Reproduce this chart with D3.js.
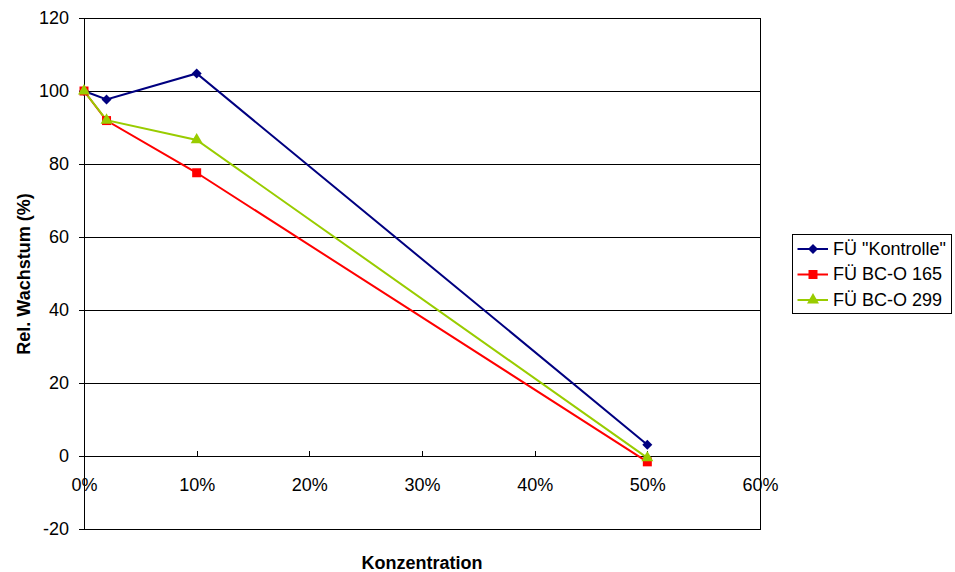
<!DOCTYPE html>
<html>
<head>
<meta charset="utf-8">
<script src="https://cdn.jsdelivr.net/npm/d3@7"></script>
<style>
  body { margin: 0; background: #fff; }
  svg { display: block; font-family: Arial, "Liberation Sans", sans-serif; }
</style>
</head>
<body>
<svg id="chart" width="955" height="572"></svg>
<script>
// Concentrations (fraction) and relative growth (%) per series
const concentrations = [0, 0.02, 0.10, 0.50];
const kontrolle = [100, 97.7, 104.8, 3.1];
const bco165 = [100, 91.9, 77.6, -1.6];
const bco299 = [100, 92.0, 86.6, -0.5];
const seriesNames = ['FÜ "Kontrolle"', 'FÜ BC-O 165', 'FÜ BC-O 299'];
const xTicks = [0, 0.1, 0.2, 0.3, 0.4, 0.5, 0.6];
const yTicks = [-20, 0, 20, 40, 60, 80, 100, 120];

// Square diamond marker (rotated square)
const diamond = {
  draw(ctx, size) {
    const r = Math.sqrt(size / 2);
    ctx.moveTo(0, -r); ctx.lineTo(r, 0); ctx.lineTo(0, r); ctx.lineTo(-r, 0); ctx.closePath();
  }
};

const series = [
  { name: seriesNames[0], values: kontrolle, color: "#000080", symbol: diamond, size: 50 },
  { name: seriesNames[1], values: bco165, color: "#FF0000", symbol: d3.symbolSquare, size: 81 },
  { name: seriesNames[2], values: bco299, color: "#99CC00", symbol: d3.symbolTriangle, size: 62 }
];

const svg = d3.select("#chart");
const plot = { left: 84, right: 760, top: 18, bottom: 529 };

const x = d3.scaleLinear().domain([0, 0.6]).range([plot.left, plot.right]);
const y = d3.scaleLinear().domain([-20, 120]).range([plot.bottom, plot.top]);

// Horizontal gridlines
svg.append("g")
  .selectAll("line")
  .data(yTicks.filter(v => v !== -20))
  .join("line")
  .attr("x1", plot.left).attr("x2", plot.right)
  .attr("y1", d => y(d)).attr("y2", d => y(d))
  .attr("stroke", "#000").attr("stroke-width", 1)
  .attr("shape-rendering", "crispEdges");

// Plot area border
svg.append("rect")
  .attr("x", plot.left).attr("y", plot.top)
  .attr("width", plot.right - plot.left).attr("height", plot.bottom - plot.top)
  .attr("fill", "none").attr("stroke", "#000").attr("stroke-width", 1)
  .attr("shape-rendering", "crispEdges");

// Y axis
const yAxis = svg.append("g")
  .attr("transform", `translate(${plot.left},0)`)
  .call(d3.axisLeft(y).tickValues(yTicks).tickSize(5).tickPadding(10).tickFormat(d => String(d)));
yAxis.select(".domain").attr("stroke", "#000").attr("shape-rendering", "crispEdges");
yAxis.selectAll(".tick line").attr("stroke", "#000").attr("shape-rendering", "crispEdges");
yAxis.selectAll("text").attr("font-size", 18).attr("fill", "#000")
  .attr("font-family", "Arial, 'Liberation Sans', sans-serif");

// X axis on the zero line, ticks pointing up
const xAxis = svg.append("g")
  .attr("transform", `translate(0,${y(0)})`)
  .call(d3.axisBottom(x).tickValues(xTicks).tickSize(0).tickFormat(d3.format(".0%")));
xAxis.select(".domain").remove();
xAxis.selectAll(".tick").append("line")
  .attr("y1", 0).attr("y2", -5).attr("stroke", "#000")
  .attr("shape-rendering", "crispEdges");
xAxis.selectAll("text")
  .attr("y", 35).attr("dy", 0)
  .attr("font-size", 18).attr("fill", "#000")
  .attr("font-family", "Arial, 'Liberation Sans', sans-serif");

// Series lines and markers
const line = d3.line().x((d, i) => x(concentrations[i])).y(d => y(d));
series.forEach(s => {
  svg.append("path")
    .datum(s.values)
    .attr("d", line)
    .attr("fill", "none")
    .attr("stroke", s.color)
    .attr("stroke-width", 2);
});
series.forEach(s => {
  svg.append("g")
    .selectAll("path")
    .data(s.values)
    .join("path")
    .attr("transform", (d, i) => `translate(${x(concentrations[i])},${y(d)})`)
    .attr("d", d3.symbol().type(s.symbol).size(s.size))
    .attr("fill", s.color);
});

// Axis titles
svg.append("text")
  .attr("x", (plot.left + plot.right) / 2).attr("y", 569)
  .attr("text-anchor", "middle")
  .attr("font-size", 18).attr("font-weight", "bold")
  .text("Konzentration");

svg.append("text")
  .attr("transform", `translate(30,274) rotate(-90)`)
  .attr("text-anchor", "middle")
  .attr("font-size", 18).attr("font-weight", "bold")
  .text("Rel. Wachstum (%)");

// Legend
const legend = svg.append("g");
legend.append("rect")
  .attr("x", 792).attr("y", 234).attr("width", 159).attr("height", 79)
  .attr("fill", "#fff").attr("stroke", "#000").attr("stroke-width", 1)
  .attr("shape-rendering", "crispEdges");
series.forEach((s, i) => {
  const ly = 249 + i * 25.5;
  legend.append("line")
    .attr("x1", 797.5).attr("x2", 828).attr("y1", ly).attr("y2", ly)
    .attr("stroke", s.color).attr("stroke-width", 2);
  legend.append("path")
    .attr("transform", `translate(813,${ly})`)
    .attr("d", d3.symbol().type(s.symbol).size(s.size))
    .attr("fill", s.color);
  legend.append("text")
    .attr("x", 833).attr("y", ly + 5.5)
    .attr("font-size", 18)
    .text(s.name);
});
</script>
</body>
</html>
